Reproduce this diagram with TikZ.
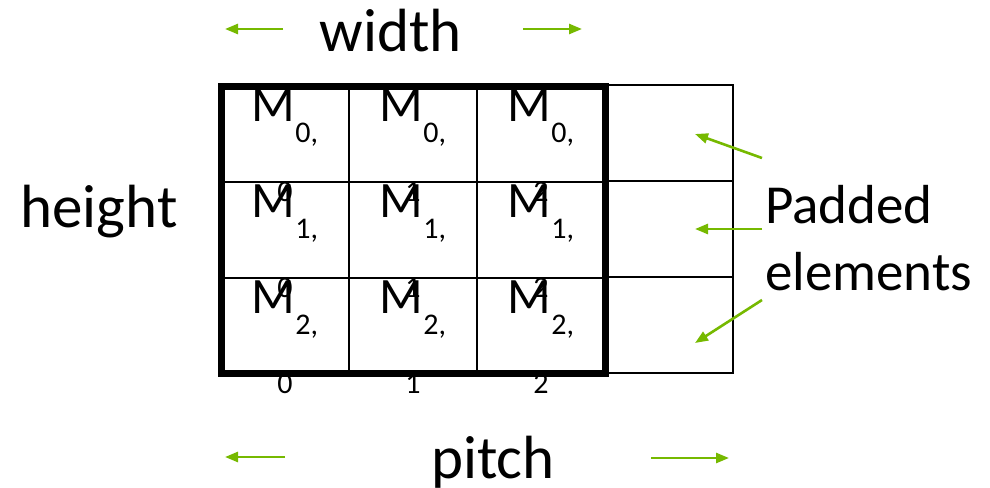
\documentclass[tikz,border=0pt]{standalone}
\usepackage{fontspec}
\setmainfont{Carlito}
\usetikzlibrary{arrows.meta}
\definecolor{nvgreen}{HTML}{76B900}
\tikzset{
  cellbox/.style={draw=black, line width=2pt, minimum width=128pt, minimum height=95.5pt, inner sep=0pt, outer sep=0pt},
  padbox/.style={draw=black, line width=1.6pt, minimum width=128pt, minimum height=96pt, inner sep=0pt, outer sep=0pt},
  thickframe/.style={draw=black, line width=7pt},
  mtext/.style={anchor=base, inner sep=0pt, font=\fontsize{51}{60}\selectfont},
  subtext/.style={anchor=base, inner sep=0pt, font=\fontsize{30}{36}\selectfont},
  biglabel/.style={anchor=base, inner sep=0pt, font=\fontsize{61}{73}\selectfont},
  padlabel/.style={anchor=base west, inner sep=0pt, font=\fontsize{55}{66}\selectfont},
  greenarrow/.style={draw=nvgreen, line width=2.6pt, -{Triangle[length=13pt,width=10pt]}}
}
\newcommand{\msub}[1]{M\raisebox{-21pt}{\fontsize{30}{36}\selectfont #1,}}
\begin{document}
\begin{tikzpicture}[x=1pt,y=-1pt]
\useasboundingbox (0,0) rectangle (990,487);
% texts (drawn under grid lines)
\foreach \r in {0,1,2}{
  \foreach \c in {0,1,2}{
    \node[mtext] (m\r\c) at ({285+128*\c},{121+96*\r}) {\msub{\r}};
    \node[subtext] (w\r\c) at ({285+128*\c},{201+96*\r}) {\c};
  }
}
% grid cells
\foreach \r in {0,1,2}{
  \foreach \c in {0,1,2}{
    \node[cellbox] (c\r\c) at ({285+128*\c},{134.5+95.5*\r}) {};
  }
  \node[padbox] (p\r) at (669,{133+96*\r}) {};
}
\draw[thickframe] (c00.north west) rectangle (c22.south east);
% labels
\node[biglabel] (width) at (391,52) {width};
\node[biglabel] (height) at (99,227) {height};
\node[biglabel] (pitch) at (493,478) {pitch};
\node[padlabel] (padded) at (765,223) {Padded};
\node[padlabel] (elements) at (765,290) {elements};
% arrows
\coordinate (wl0) at (283,29); \coordinate (wl1) at (225,29);
\coordinate (wr0) at (523,29); \coordinate (wr1) at (582,29);
\coordinate (pl0) at (285,457); \coordinate (pl1) at (225,457);
\coordinate (pr0) at (651,458); \coordinate (pr1) at (729,458);
\draw[greenarrow] (wl0) -- (wl1);
\draw[greenarrow] (wr0) -- (wr1);
\draw[greenarrow] (pl0) -- (pl1);
\draw[greenarrow] (pr0) -- (pr1);
\coordinate (a0) at (762,158); \coordinate (t0) at (695,134);
\coordinate (a1) at (762,229); \coordinate (t1) at (695,229);
\coordinate (a2) at (762,300); \coordinate (t2) at (695,343);
\draw[greenarrow] (a0) -- (t0);
\draw[greenarrow] (a1) -- (t1);
\draw[greenarrow] (a2) -- (t2);
\end{tikzpicture}
\end{document}
